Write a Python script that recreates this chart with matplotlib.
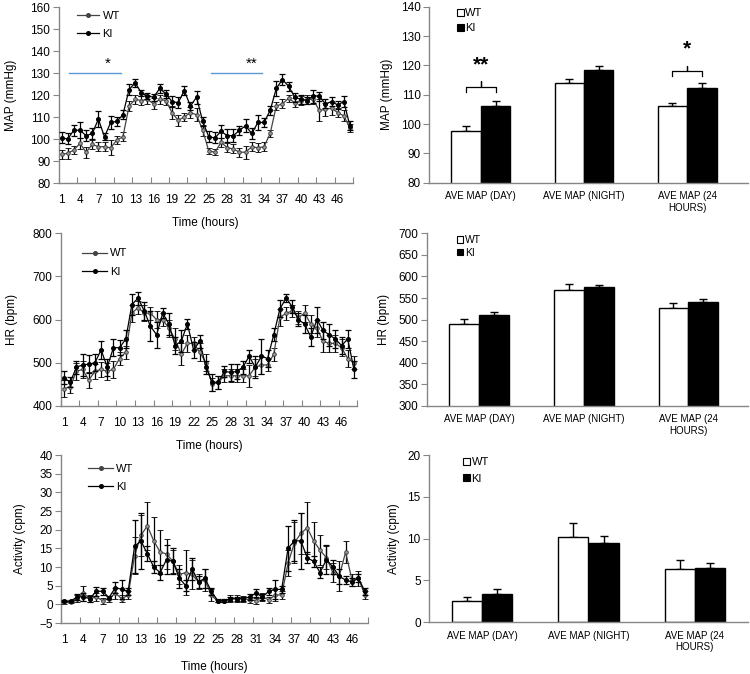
import matplotlib
matplotlib.use("Agg")
import matplotlib.pyplot as plt
from matplotlib.lines import Line2D
from matplotlib.patches import Patch
import numpy as np

plt.rcParams['font.family'] = ['Liberation Sans', 'DejaVu Sans']

hours = list(range(1, 49))
hour_ticks = list(range(1, 49, 3))

# ---- MAP time course ----
map_ki = [100.5, 100, 104, 104, 101.5, 102.5, 109, 101, 107.5, 108, 111, 122.5, 125.5, 121, 119.5, 119,
          123, 120.5, 117, 116.5, 122, 115, 119, 108, 101, 100.5, 103.5, 101.5, 101.5, 104, 106, 102.5,
          107.5, 107.5, 113, 123, 127, 124, 119, 118, 117.5, 119.5, 119.5, 116, 117, 115.5, 117, 106]
map_ki_err = [2.5, 2.5, 2.5, 3.5, 2.5, 2.5, 3.5, 1.5, 3, 2, 2, 2.5, 2, 1.5, 1.5, 1.5, 2, 2, 2.5, 2.5, 2, 2, 3, 2,
              2.5, 2.5, 3, 3, 3, 2, 3, 2.5, 3.5, 2, 2, 3.5, 2.5, 2, 2, 2, 1.5, 3, 2, 2, 2, 2, 2.5, 2]
map_wt = [93, 93.5, 95, 98, 94, 97.5, 96.5, 96.5, 96, 99.5, 101, 115, 118, 117.5, 118, 116, 118, 117.5, 112,
          108.5, 110, 112, 111, 104, 94.5, 94, 98.5, 96, 95.5, 94, 94, 96.5, 96, 96.5, 102.5, 115, 116, 118.5,
          116.5, 117.5, 118, 118, 113, 113.5, 114, 112, 110.5, 105]
map_wt_err = [2, 2.5, 2, 2.5, 2.5, 2, 2, 2, 3.5, 2, 2, 2.5, 2, 2, 2, 2.5, 2, 2, 3, 2.5, 2, 2.5, 3, 2.5, 1.5, 1.5,
              2, 2, 2, 2, 3, 2, 2, 2, 1.5, 2, 2, 1.5, 2, 2, 2, 2, 5, 3, 3, 2, 2.5, 2]

# ---- HR time course ----
hr_ki = [465, 455, 490, 495, 497, 500, 530, 490, 535, 535, 555, 635, 650, 620, 585, 565, 615, 590, 540, 550,
         590, 530, 550, 490, 455, 455, 480, 478, 480, 490, 515, 490, 515, 510, 565, 625, 650, 630, 600, 590,
         560, 600, 575, 565, 555, 540, 555, 485]
hr_ki_err = [15, 12, 15, 25, 20, 20, 20, 20, 20, 18, 20, 25, 15, 20, 35, 30, 12, 25, 20, 25, 12, 18, 15, 15,
             20, 15, 12, 20, 18, 15, 15, 25, 40, 20, 15, 20, 10, 15, 15, 20, 20, 30, 20, 25, 20, 20, 20, 20]
hr_wt = [440, 445, 480, 485, 460, 480, 485, 480, 485, 510, 525, 615, 628, 615, 615, 600, 600, 580, 555, 520,
         545, 545, 525, 500, 450, 455, 470, 470, 470, 470, 470, 490, 495, 495, 520, 605, 615, 620, 605, 615,
         590, 580, 550, 545, 545, 535, 510, 500]
hr_wt_err = [20, 15, 20, 20, 18, 18, 18, 20, 20, 15, 15, 20, 15, 18, 15, 20, 15, 20, 25, 25, 20, 15, 20, 20,
             15, 15, 15, 15, 15, 15, 25, 20, 20, 15, 15, 20, 15, 15, 15, 20, 20, 20, 25, 20, 20, 20, 20, 15]

# ---- Activity time course ----
act_wt = [0.5, 0.7, 1.5, 3, 1.5, 2, 1, 1.5, 3, 1.5, 2.5, 13, 18.5, 21, 17, 14, 13.5, 11.5, 8, 8.5, 8, 6, 6.5,
          2.5, 0.8, 0.8, 1.5, 1.5, 1.5, 1.2, 1, 2, 1.2, 2.5, 2.5, 11, 16.5, 19, 20.5, 17, 14.5, 12.5, 8.5,
          7.5, 14, 6.5, 7, 2.5]
act_wt_err = [0.3, 0.3, 1, 2, 1, 1, 0.8, 0.8, 1.5, 1, 1, 5, 5.5, 6.5, 6.5, 6, 4, 3, 2.5, 6, 4, 2, 3, 1.5,
              0.3, 0.3, 1, 1, 0.8, 0.8, 0.8, 1, 0.8, 1.5, 1, 3.5, 5.5, 5.5, 7, 5, 4, 3, 2.5, 4, 3, 1.5, 2,
              1]
act_ki = [0.8, 0.8, 2, 2, 1.5, 3.5, 3.5, 1.8, 4.5, 4, 3.5, 15.5, 17, 13.5, 10, 8.5, 12, 11.5, 7, 5, 9.5, 6,
          7, 3.5, 1, 1, 1.5, 1.5, 1.5, 2, 3, 2, 3.5, 4, 4, 15, 17, 17, 12.5, 11.5, 8.5, 12, 10, 7.5, 6.5, 6,
          7, 3.5]
act_ki_err = [0.3, 0.3, 0.8, 1, 0.8, 1.2, 1, 0.5, 1.5, 2.5, 1, 7, 7.5, 2, 1.5, 2, 4, 3.5, 2.5, 1.5, 3, 1.5,
              2.5, 1, 0.3, 0.3, 0.5, 0.5, 0.5, 0.8, 1, 0.8, 1, 2.5, 1, 6, 5.5, 7.5, 1.5, 1.5, 1.5, 4, 2, 2,
              1, 1, 1, 1]

# ---- Bar summaries ----
bar_cats = ['AVE MAP (DAY)', 'AVE MAP (NIGHT)', 'AVE MAP (24\nHOURS)']
bar_map_wt = [97.5, 114, 106]
bar_map_wt_err = [1.8, 1.5, 1.2]
bar_map_ki = [106, 118.3, 112.3]
bar_map_ki_err = [2, 1.6, 1.6]
bar_hr_wt = [490, 568, 528]
bar_hr_wt_err = [12, 14, 11]
bar_hr_ki = [510, 575, 541]
bar_hr_ki_err = [7, 5, 7]
bar_act_wt = [2.6, 10.2, 6.4]
bar_act_wt_err = [0.4, 1.7, 1.1]
bar_act_ki = [3.4, 9.5, 6.5]
bar_act_ki_err = [0.6, 0.8, 0.6]

W, H = 750, 674
fig = plt.figure(figsize=(7.5, 6.74), dpi=100)


def add_ax(x0, x1, ytop, ybot):
    return fig.add_axes([x0 / W, 1 - ybot / H, (x1 - x0) / W, (ybot - ytop) / H])


AX_COL = '#868686'
FS = 8.5


def style(ax):
    for s in ['top', 'right']:
        ax.spines[s].set_visible(False)
    for s in ['left', 'bottom']:
        ax.spines[s].set_color(AX_COL)
        ax.spines[s].set_linewidth(1.0)


def line_panel(ax, wt, wte, ki, kie, ylim, step, ylabel, ylx, xly, leg_xy, hl):
    style(ax)
    ax.errorbar(hours, wt, yerr=wte, color='#444444', lw=0.9, marker='o', ms=2.6,
                mfc='#9a9a9a', mec='#333333', mew=0.6, ecolor='black', elinewidth=0.9,
                capsize=2.5, capthick=0.9, zorder=3)
    ax.errorbar(hours, ki, yerr=kie, color='black', lw=0.9, marker='o', ms=2.6,
                mfc='black', mec='black', ecolor='black', elinewidth=0.9,
                capsize=2.5, capthick=0.9, zorder=4)
    ax.set_xlim(0.5, 48.5)
    ax.set_ylim(*ylim)
    ax.set_yticks(np.arange(ylim[0], ylim[1] + step / 2, step))
    ax.set_xticks(hour_ticks)
    ax.set_xticks(np.arange(0.5, 48.6, 3), minor=True)
    ax.tick_params(axis='x', which='major', length=0, pad=8, labelsize=FS)
    ax.tick_params(axis='x', which='minor', direction='in', length=4, color=AX_COL, width=0.8)
    ax.tick_params(axis='y', direction='out', length=4, color=AX_COL, pad=2, labelsize=FS)
    ax.set_ylabel(ylabel, fontsize=FS)
    ax.yaxis.set_label_coords(ylx, 0.5)
    ax.set_xlabel('Time (hours)', fontsize=FS)
    ax.xaxis.set_label_coords(0.5, xly)
    handles = [Line2D([], [], color='#444444', lw=0.9, marker='o', ms=2.6, mfc='#444444'),
               Line2D([], [], color='black', lw=0.9, marker='o', ms=2.6, mfc='black')]
    ax.legend(handles, ['WT', 'KI'], loc='upper left', bbox_to_anchor=leg_xy, frameon=False,
              fontsize=8, handlelength=hl, handletextpad=0.3, labelspacing=0.75,
              borderpad=0, borderaxespad=0)


def bar_panel(ax, wt, wte, ki, kie, ylim, step, ylabel, ylx, xmax, leg_xy, lfs, lsp):
    style(ax)
    x = np.arange(len(bar_cats))
    bw = 0.285
    ax.bar(x - bw / 2, wt, bw, bottom=0, color='white', edgecolor='black', lw=1.0, zorder=2)
    ax.bar(x + bw / 2, ki, bw, color='black', edgecolor='black', lw=1.0, zorder=2)
    ax.errorbar(x - bw / 2, wt, yerr=[np.zeros(3), wte], fmt='none', ecolor='black',
                elinewidth=1.0, capsize=3, capthick=1.0, zorder=1)
    ax.errorbar(x + bw / 2, ki, yerr=[np.zeros(3), kie], fmt='none', ecolor='black',
                elinewidth=1.0, capsize=3, capthick=1.0, zorder=1)
    ax.set_xlim(-0.5, xmax)
    ax.set_ylim(*ylim)
    ax.set_yticks(np.arange(ylim[0], ylim[1] + step / 2, step))
    ax.set_xticks(x)
    ax.set_xticklabels(bar_cats, fontsize=7.0)
    ax.tick_params(axis='x', length=0, pad=6)
    ax.tick_params(axis='y', direction='out', length=4, color=AX_COL, pad=2, labelsize=FS)
    ax.set_ylabel(ylabel, fontsize=FS)
    ax.yaxis.set_label_coords(ylx, 0.5)
    handles = [Patch(facecolor='white', edgecolor='black', lw=0.8),
               Patch(facecolor='black', edgecolor='black', lw=0.8)]
    ax.legend(handles, ['WT', 'KI'], loc='upper left', bbox_to_anchor=leg_xy, frameon=False,
              fontsize=lfs, handlelength=0.6, handleheight=0.6, handletextpad=0.15,
              labelspacing=lsp, borderpad=0, borderaxespad=0)
    return x, bw


# Left column
ax1 = add_ax(58.5, 353, 7, 183)
line_panel(ax1, map_wt, map_wt_err, map_ki, map_ki_err, (80, 160), 10, 'MAP (mmHg)',
           -0.141, -0.193, (0.063, 0.98), 2.0)
ax1.plot([2.2, 10.7], [130, 130], color='#5B9BD5', lw=1.0)
ax1.plot([25.3, 33.7], [130, 130], color='#5B9BD5', lw=1.0)
ax1.text(8.6, 131, '*', ha='center', va='bottom', fontsize=11)
ax1.text(32.0, 131, '**', ha='center', va='bottom', fontsize=11)

ax2 = add_ax(61, 357, 233.3, 406)
line_panel(ax2, hr_wt, hr_wt_err, hr_ki, hr_ki_err, (400, 800), 100, 'HR (bpm)',
           -0.145, -0.197, (0.071, 0.912), 2.25)

ax3 = add_ax(61, 368, 455, 623)
line_panel(ax3, act_wt, act_wt_err, act_ki, act_ki_err, (-5, 40), 5, 'Activity (cpm)',
           -0.114, -0.226, (0.088, 0.949), 2.25)

# Right column
ax4 = add_ax(429.3, 748, 6.7, 182.7)
x, bw = bar_panel(ax4, bar_map_wt, bar_map_wt_err, bar_map_ki, bar_map_ki_err, (80, 140), 10,
                  'MAP (mmHg)', -0.114, 2.59, (0.087, 0.99), 8, 0.45)


def bracket(ax, xl, xr, y, drop, nub):
    xc = (xl + xr) / 2
    ax.plot([xl, xl, xc, xc, xc, xr, xr], [y - drop, y, y, y + nub, y, y, y - drop],
            color='black', lw=0.9)


bracket(ax4, x[0] - bw / 2, x[0] + bw / 2, 112.5, 1.6, 2.2)
ax4.text(x[0], 117, '**', ha='center', va='bottom', fontsize=15, fontweight='bold')
bracket(ax4, x[2] - bw / 2, x[2] + bw / 2, 118.2, 1.8, 1.7)
ax4.text(x[2], 122.3, '*', ha='center', va='bottom', fontsize=15, fontweight='bold')

ax5 = add_ax(426.7, 748, 233.3, 406)
bar_panel(ax5, bar_hr_wt, bar_hr_wt_err, bar_hr_ki, bar_hr_ki_err, (300, 700), 50,
          'HR (bpm)', -0.114, 2.57, (0.094, 0.99), 7.5, 0.25)

ax6 = add_ax(429, 748, 455, 622.3)
bar_panel(ax6, bar_act_wt, bar_act_wt_err, bar_act_ki, bar_act_ki_err, (0, 20), 5,
          'Activity (cpm)', -0.091, 2.5, (0.107, 0.988), 8, 0.6)

fig.savefig('out.png', dpi=100)
